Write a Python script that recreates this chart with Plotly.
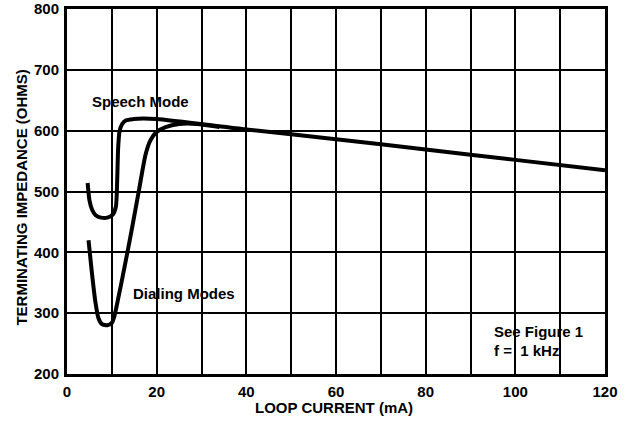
import plotly.graph_objects as go

# Speech mode curve (loop current mA, impedance ohms)
speech_x = [4.6, 5.0, 5.6, 6.4, 7.6, 9.0, 10.2, 10.9, 11.2, 11.4, 11.7, 12.3, 13.2, 14.8, 17.0, 20, 40, 60, 80, 100, 120]
speech_y = [514, 486, 470, 461, 457, 457, 462, 475, 520, 570, 598, 611, 617, 619, 620, 619, 602, 586, 569, 552, 535]

# Dialing modes curve
dial_x = [4.8, 5.5, 6.3, 7.0, 7.8, 9.0, 10.0, 10.6, 12.0, 14.0, 16.0, 17.5, 18.6, 20.0, 22.0, 25.0, 29.0, 34.0]
dial_y = [420, 370, 320, 292, 282, 280, 284, 296, 345, 420, 500, 560, 584, 598, 606, 611, 611, 606]

x_ticks = [0, 20, 40, 60, 80, 100, 120]
y_ticks = [200, 300, 400, 500, 600, 700, 800]

FONT = "Liberation Sans, Arial, sans-serif"

fig = go.Figure()
fig.add_trace(go.Scatter(x=speech_x, y=speech_y, mode="lines",
                         line=dict(color="black", width=4, shape="spline", smoothing=0.6),
                         showlegend=False, hoverinfo="skip"))
fig.add_trace(go.Scatter(x=dial_x, y=dial_y, mode="lines",
                         line=dict(color="black", width=4, shape="spline", smoothing=0.6),
                         showlegend=False, hoverinfo="skip"))

axis_common = dict(showline=True, linecolor="black", linewidth=3, mirror=True,
                   showgrid=True, gridcolor="black", gridwidth=2, zeroline=False,
                   automargin=False, ticks="",
                   tickfont=dict(family=FONT, size=15, color="black", weight="bold"))

fig.update_xaxes(range=[0, 120], tickvals=x_ticks, ticktext=[str(v) for v in x_ticks],
                 minor=dict(dtick=10, showgrid=True, gridcolor="black", gridwidth=2, tick0=0),
                 ticklabelstandoff=2,
                 **axis_common)
fig.update_yaxes(range=[200, 800], tickvals=y_ticks, ticktext=[str(v) for v in y_ticks],
                 ticklabelstandoff=2,
                 **axis_common)

PW, PH = 538, 365
title_font = dict(family=FONT, size=15, color="black", weight="bold")
fig.add_annotation(xref="x", yref="paper", x=59.6, y=-33 / PH, yanchor="middle",
                   text="LOOP CURRENT (mA)", showarrow=False, font=title_font)
fig.add_annotation(xref="paper", yref="y", x=-45 / PW, y=490, xanchor="center",
                   text="TERMINATING IMPEDANCE (OHMS)", textangle=-90, showarrow=False,
                   font=title_font)

ann_font = dict(family=FONT, size=15, color="black", weight="bold")
fig.add_annotation(x=16.3, y=648, text="Speech Mode", showarrow=False, font=ann_font)
fig.add_annotation(x=26.0, y=332, text="Dialing Modes", showarrow=False, font=ann_font)
fig.add_annotation(x=94.9, y=270, text="See Figure 1", showarrow=False, font=ann_font, xanchor="left")
fig.add_annotation(x=94.9, y=238, text="f\u00a0=\u00a0\u00a01 kHz", showarrow=False, font=ann_font, xanchor="left")

fig.update_layout(width=625, height=431, margin=dict(l=67, r=20, t=9, b=57),
                  plot_bgcolor="white", paper_bgcolor="white")

# remove the browser's default 8px body margin so the figure fills the window exactly
fig.write_html("out.html", config={"displayModeBar": False},
               post_script="document.body.style.margin='0';")
